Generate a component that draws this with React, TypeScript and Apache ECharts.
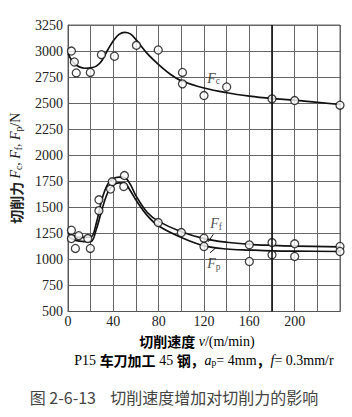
import React, { useEffect, useRef } from "react";
import * as echarts from "echarts";

// Fitted curve Fc
const fcCurveV = [0, 5, 10, 15, 20, 25, 30, 35, 40, 45, 50, 55, 60, 70, 80, 90, 100, 120, 140, 160, 180, 200, 240];
const fcCurveF = [2975, 2885, 2848, 2835, 2838, 2855, 2910, 3010, 3100, 3160, 3180, 3165, 3110, 2975, 2870, 2780, 2715, 2645, 2600, 2568, 2545, 2528, 2487];

// Fitted curve Ff (upper)
const ffCurveV = [0, 5, 10, 20, 25, 30, 35, 40, 45, 50, 55, 60, 70, 80, 100, 120, 140, 160, 180, 200, 240];
const ffCurveF = [1250, 1225, 1212, 1215, 1350, 1580, 1720, 1775, 1790, 1785, 1720, 1610, 1450, 1365, 1265, 1200, 1165, 1145, 1135, 1128, 1120];

// Fitted curve Fp (lower)
const fpCurveV = [0, 5, 10, 20, 25, 30, 35, 40, 45, 50, 55, 60, 70, 80, 100, 120, 140, 160, 180, 200, 240];
const fpCurveF = [1220, 1190, 1175, 1170, 1290, 1480, 1640, 1715, 1735, 1730, 1660, 1570, 1420, 1320, 1210, 1130, 1100, 1090, 1082, 1080, 1076];

// Measured points, Fc
const fcObsV = [3, 5.6, 7.3, 19.7, 29.5, 41, 60.4, 79.6, 101, 101, 120, 140, 180, 200, 240];
const fcObsF = [3000, 2895, 2790, 2795, 2965, 2950, 3055, 3010, 2795, 2685, 2573, 2655, 2541, 2525, 2480];

// Measured points, Ff / Fp
const fpfObsV = [3, 3, 6.5, 9.5, 17.5, 19.7, 27.3, 27.3, 39, 37.5, 49.8, 49.2, 79.6, 100, 120, 120, 160, 160, 180, 180, 200, 200, 240, 240];
const fpfObsF = [1280, 1200, 1105, 1228, 1200, 1105, 1572, 1468, 1745, 1675, 1805, 1700, 1354, 1258, 1204, 1124, 1140, 980, 1162, 1044, 1150, 1028, 1124, 1076];

// Axis
const xTicks = [0, 40, 80, 120, 160, 200];
const yMin = 500;
const yMax = 3250;
const yStep = 250;
const xMin = 0;
const xMax = 240;
const xStep = 20;

// Annotations (data coordinates)
const fcLabelAt = [128.4, 2741];
const ffLabelAt = [130.6, 1340];
const fpLabelAt = [128.8, 956];
const ffLeader = [[123.8, 1170], [128.2, 1241]];
const fpLeader = [[125.3, 1064], [130.6, 1112]];
const markV = 180;

const zip = (a: number[], b: number[]) => a.map((v, i) => [v, b[i]]);

const SERIF = "'Liberation Serif', 'DejaVu Serif', serif";
const CJK = "'Noto Sans CJK SC', sans-serif";

const rich = (size: number) => ({
  cn: { fontFamily: CJK, fontSize: size, fontWeight: "bold" as const, color: "#222" },
  r: { fontFamily: SERIF, fontSize: size, color: "#222" },
  it: { fontFamily: SERIF, fontSize: size, fontStyle: "italic" as const, color: "#222" },
  sub: { fontFamily: SERIF, fontSize: size * 0.68, color: "#222", padding: [size * 0.45, 0, 0, 0] },
});

export default function App() {
  const ref = useRef<HTMLDivElement>(null);
  useEffect(() => {
    if (!ref.current) return;
    const chart = echarts.init(ref.current, undefined, { renderer: "svg" });
    const circle = {
      symbol: "circle",
      symbolSize: 8,
      itemStyle: { color: "#fff", borderColor: "#111", borderWidth: 1.3 },
    };
    const curveStyle = { color: "#111", width: 1.7 };
    const labelSeries = (pt: number[], sub: string) => ({
      type: "scatter",
      data: [pt],
      symbolSize: 1,
      itemStyle: { color: "rgba(0,0,0,0)" },
      silent: true,
      z: 5,
      label: {
        show: true,
        position: "inside",
        formatter: `{it|F}{sub|${sub}}`,
        rich: rich(14),
      },
    });
    chart.setOption({
      animation: false,
      grid: {
        left: 68,
        right: 12,
        top: 25,
        bottom: 105.5,
        show: true,
        borderColor: "#666",
        borderWidth: 1,
      },
      xAxis: {
        type: "value",
        min: xMin,
        max: xMax,
        interval: xStep,
        axisLine: { show: true, lineStyle: { color: "#555" } },
        axisTick: { show: false },
        splitLine: { show: true, lineStyle: { color: "#666", width: 1 } },
        axisLabel: {
          fontFamily: SERIF,
          fontSize: 14,
          color: "#222",
          margin: 3,
          formatter: (v: number) => (xTicks.includes(v) ? String(v) : ""),
        },
      },
      yAxis: {
        type: "value",
        min: yMin,
        max: yMax,
        interval: yStep,
        axisLine: { show: true, lineStyle: { color: "#555" } },
        axisTick: { show: false },
        splitLine: { show: true, lineStyle: { color: "#666", width: 1 } },
        axisLabel: {
          fontFamily: SERIF,
          fontSize: 14,
          color: "#222",
          margin: 5,
          formatter: (v: number) => String(v),
        },
        name: "{cn|切削力} {it|F}{sub|c}{r|, }{it|F}{sub|f}{r|, }{it|F}{sub|p}{r|/N}",
        nameLocation: "middle",
        nameRotate: 90,
        nameGap: 41,
        nameTextStyle: { rich: rich(14) },
      },
      graphic: [
        {
          type: "text",
          x: 197,
          y: 341,
          style: {
            text: "{cn|切削速度} {it|v}{r|/(m/min)}",
            rich: rich(14),
            textAlign: "center",
            textVerticalAlign: "middle",
          },
        },
        {
          type: "text",
          x: 204,
          y: 360,
          style: {
            text: "{r|P15 }{cn|车刀加工}{r| 45 }{cn|钢，}{it|a}{sub|p}{r|= 4mm}{cn|，}{it|f}{r|= 0.3mm/r}",
            rich: rich(14),
            textAlign: "center",
            textVerticalAlign: "middle",
          },
        },
        {
          type: "text",
          x: 174,
          y: 397,
          style: {
            text: "图 2-6-13    切削速度增加对切削力的影响",
            fontFamily: CJK,
            fontSize: 16,
            fill: "#444",
            textAlign: "center",
            textVerticalAlign: "middle",
          },
        },
      ],
      series: [
        {
          type: "line",
          data: zip(fcCurveV, fcCurveF),
          smooth: 0.35,
          showSymbol: false,
          symbol: "none",
          lineStyle: curveStyle,
          z: 3,
          markLine: {
            silent: true,
            symbol: ["none", "none"],
            label: { show: false },
            lineStyle: { color: "#111", width: 1.6, type: "solid" },
            data: [{ xAxis: markV }],
          },
        },
        {
          type: "line",
          data: zip(ffCurveV, ffCurveF),
          smooth: 0.35,
          showSymbol: false,
          symbol: "none",
          lineStyle: curveStyle,
          z: 3,
        },
        {
          type: "line",
          data: zip(fpCurveV, fpCurveF),
          smooth: 0.35,
          showSymbol: false,
          symbol: "none",
          lineStyle: curveStyle,
          z: 3,
        },
        { type: "scatter", data: zip(fcObsV, fcObsF), ...circle, z: 4 },
        { type: "scatter", data: zip(fpfObsV, fpfObsF), ...circle, z: 4 },
        {
          type: "line",
          data: ffLeader,
          symbol: "none",
          lineStyle: { color: "#111", width: 1 },
          z: 3,
        },
        {
          type: "line",
          data: fpLeader,
          symbol: "none",
          lineStyle: { color: "#111", width: 1 },
          z: 3,
        },
        labelSeries(fcLabelAt, "c"),
        labelSeries(ffLabelAt, "f"),
        labelSeries(fpLabelAt, "p"),
      ],
    });
    return () => chart.dispose();
  }, []);
  return (
    <div
      ref={ref}
      style={{ position: "fixed", left: 0, top: 0, width: 352, height: 417, background: "#fff" }}
    />
  );
}
